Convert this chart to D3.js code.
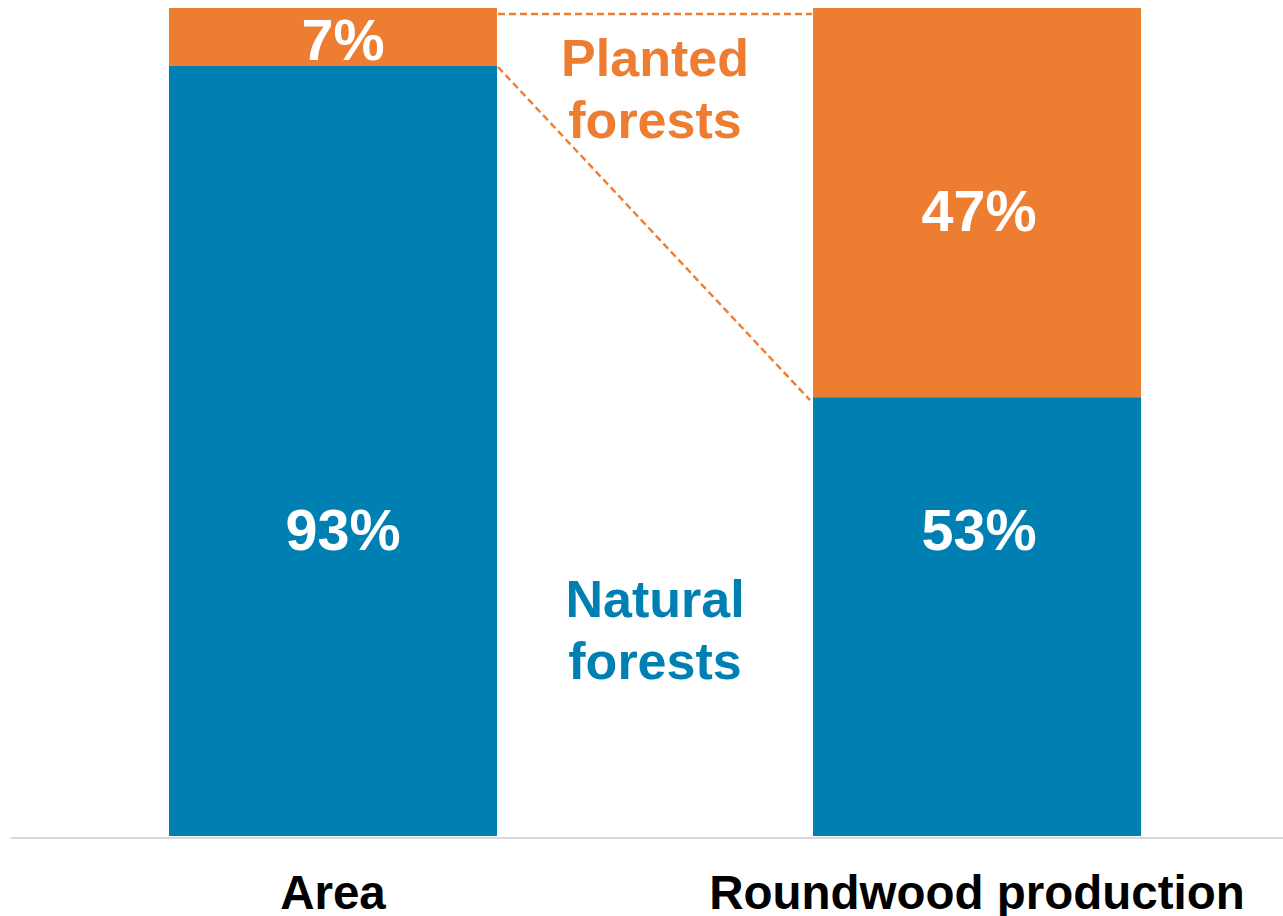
<!DOCTYPE html>
<html>
<head>
<meta charset="utf-8">
<script src="https://cdn.jsdelivr.net/npm/d3@7"></script>
<style>
  html, body { margin: 0; padding: 0; background: #ffffff; }
  svg { display: block; }
  text { font-family: "Liberation Sans", Arial, sans-serif; font-weight: bold; }
</style>
</head>
<body>
<svg id="chart" width="1283" height="916"></svg>
<script>
// Share of forest area and roundwood production by forest type (%)
const categories = ["Area", "Roundwood production"];
const naturalShare = [93, 53];
const plantedShare = [7, 47];
const seriesNames = ["Natural forests", "Planted forests"];

const blue = "#0080b2";
const orange = "#ed7d31";

const svg = d3.select("#chart");

const x = d3.scaleBand()
  .domain(categories)
  .range([11, 1299])
  .paddingInner(0.4907)
  .paddingOuter(0.2453);

const y = d3.scaleLinear().domain([0, 100]).range([836, 8]);

const rows = categories.map((c, i) => ({ cat: c, natural: naturalShare[i], planted: plantedShare[i] }));
const stacked = d3.stack().keys(["natural", "planted"])(rows);
const colors = { natural: blue, planted: orange };

// Stacked bars
svg.append("g").selectAll("g")
  .data(stacked)
  .join("g")
  .attr("fill", d => colors[d.key])
  .selectAll("rect")
  .data(d => d)
  .join("rect")
  .attr("x", d => x(d.data.cat))
  .attr("y", d => y(d[1]))
  .attr("width", x.bandwidth())
  .attr("height", d => y(d[0]) - y(d[1]));

// Baseline
svg.append("line")
  .attr("x1", 11).attr("x2", 1283)
  .attr("y1", y(0) + 2).attr("y2", y(0) + 2)
  .attr("stroke", "#d9d9d9").attr("stroke-width", 2);

// Dashed connectors between the planted segments
const a = categories[0], b = categories[1];
const conn = svg.append("g")
  .attr("stroke", orange).attr("stroke-width", 2.4)
  .attr("stroke-dasharray", "7,4").attr("fill", "none");
conn.append("line")
  .attr("x1", x(a) + x.bandwidth() + 1).attr("y1", y(100) + 6)
  .attr("x2", x(b) - 1).attr("y2", y(100) + 6);
conn.append("line")
  .attr("x1", x(a) + x.bandwidth() + 1).attr("y1", y(naturalShare[0]) + 1)
  .attr("x2", x(b) - 3).attr("y2", y(naturalShare[1]) + 3);

// Value labels (slight right offset on the first bar)
const valueFont = 57.5;
const labelDx = [10, 2];
const plantedDy = [23, 28];
svg.append("g").selectAll("text")
  .data(rows)
  .join("text")
  .attr("x", (d, i) => x(d.cat) + x.bandwidth() / 2 + labelDx[i])
  .attr("y", y(37) + 20)
  .attr("text-anchor", "middle")
  .attr("fill", "#ffffff")
  .attr("font-size", valueFont)
  .text(d => d.natural + "%");

svg.append("g").selectAll("text")
  .data(rows)
  .join("text")
  .attr("x", (d, i) => x(d.cat) + x.bandwidth() / 2 + labelDx[i])
  .attr("y", (d, i) => y(d.natural + d.planted / 2) + plantedDy[i])
  .attr("text-anchor", "middle")
  .attr("fill", "#ffffff")
  .attr("font-size", valueFont)
  .text(d => d.planted + "%");

// Series labels in the gap between bars
const midX = (x(a) + x.bandwidth() + x(b)) / 2;
function seriesLabel(name, color, baseY) {
  const words = name.split(" ");
  const t = svg.append("text")
    .attr("text-anchor", "middle")
    .attr("fill", color)
    .attr("font-size", 52);
  words.forEach((w, i) => {
    t.append("tspan").attr("x", midX).attr("y", baseY + i * 62).text(w);
  });
}
seriesLabel(seriesNames[1], orange, 76);
seriesLabel(seriesNames[0], blue, 617);

// Category labels
svg.append("g").selectAll("text")
  .data(categories)
  .join("text")
  .attr("x", d => x(d) + x.bandwidth() / 2)
  .attr("y", 909)
  .attr("text-anchor", "middle")
  .attr("fill", "#000000")
  .attr("font-size", 47.5)
  .text(d => d);
</script>
</body>
</html>
